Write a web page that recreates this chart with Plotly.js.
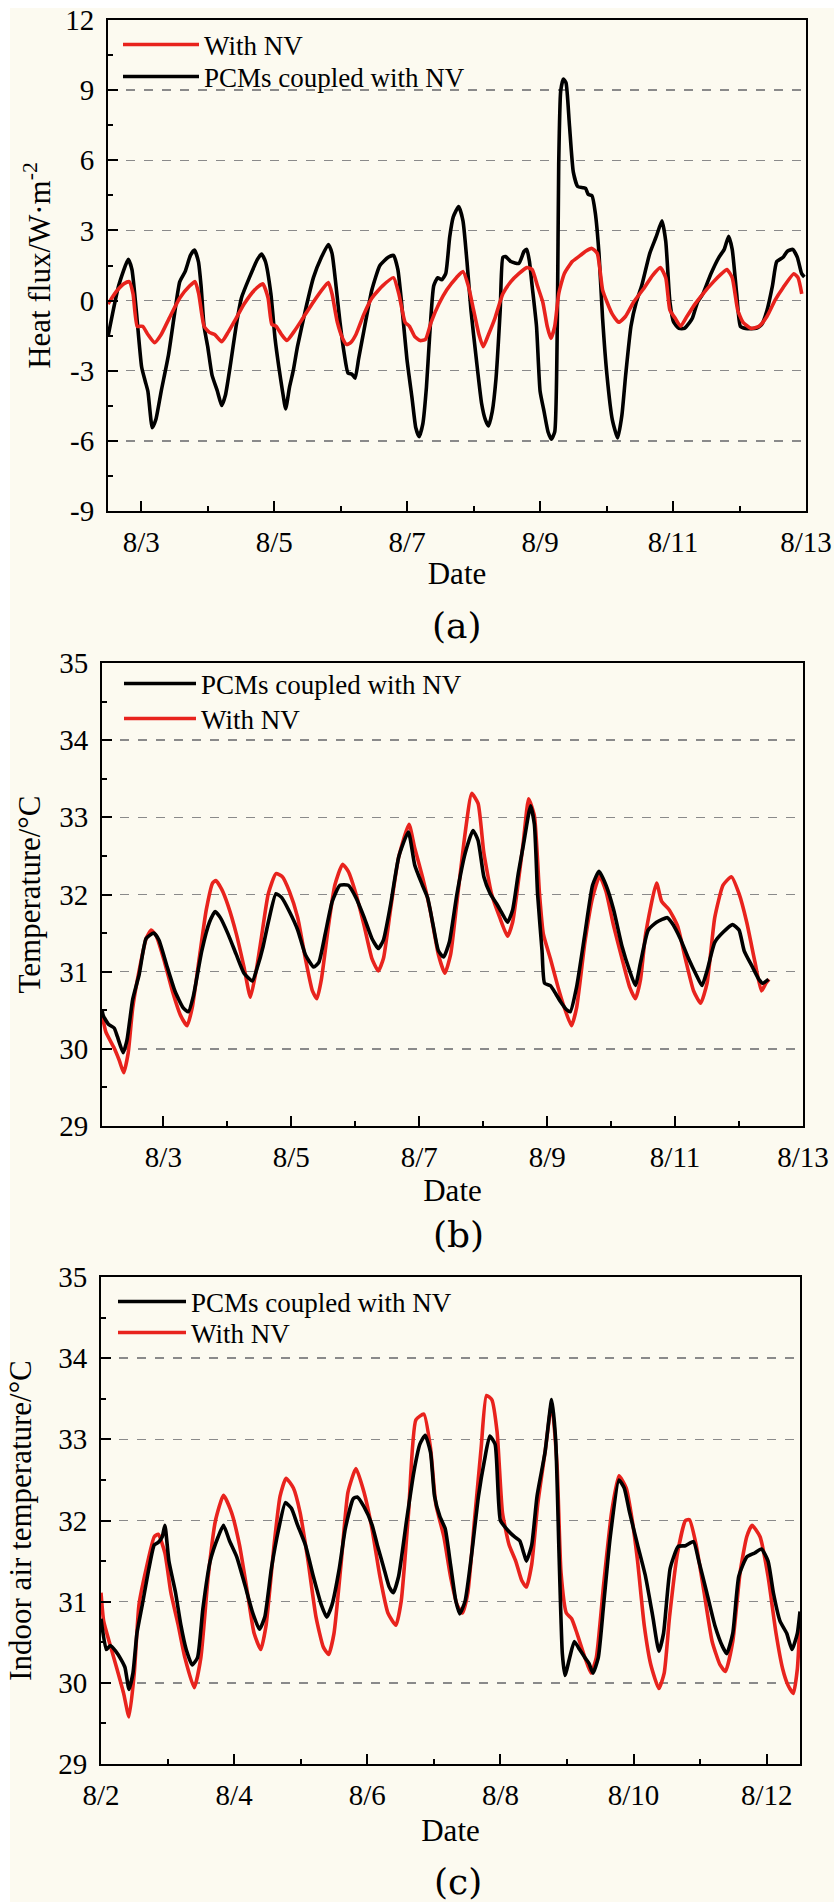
<!DOCTYPE html>
<html>
<head>
<meta charset="utf-8">
<script src="https://cdn.plot.ly/plotly-3.0.1.min.js"></script>
<style>html,body{margin:0;padding:0;background:#fff;}#chart{width:834px;height:1902px;}</style>
</head>
<body>
<div id="chart"></div>
<script>
// ---------- DATA (x = day of August, fractional) ----------
// Panel (a): heat flux, W·m-2
const dayA_pcm = [2.5,2.66,2.805,2.86,2.925,3.006,3.06,3.10,3.166,3.22,3.30,3.41,3.50,3.58,3.66,3.74,3.80,3.86,3.90,3.945,4.0,4.065,4.146,4.21,4.266,4.346,4.427,4.507,4.627,4.748,4.81,4.868,4.95,5.013,5.07,5.125,5.173,5.23,5.286,5.35,5.47,5.59,5.71,5.815,5.87,5.93,5.99,6.056,6.11,6.17,6.217,6.27,6.35,6.47,6.59,6.715,6.795,6.86,6.915,6.996,7.076,7.13,7.18,7.236,7.29,7.34,7.40,7.46,7.52,7.58,7.64,7.694,7.775,7.84,7.90,7.96,8.04,8.12,8.176,8.224,8.28,8.336,8.40,8.44,8.48,8.56,8.68,8.76,8.80,8.84,8.88,8.946,9.0,9.06,9.12,9.17,9.22,9.26,9.28,9.31,9.35,9.39,9.44,9.50,9.565,9.645,9.685,9.725,9.78,9.83,9.886,9.94,10.006,10.086,10.167,10.23,10.287,10.367,10.447,10.528,10.65,10.745,10.833,10.89,10.953,11.01,11.09,11.17,11.25,11.29,11.37,11.45,11.57,11.69,11.77,11.836,11.89,11.957,12.013,12.09,12.25,12.334,12.414,12.495,12.56,12.655,12.72,12.80,12.87,12.935,12.976];
const fluxA_pcm = [-1.54,0.63,1.76,1.33,-0.41,-2.84,-3.45,-3.88,-5.44,-5.09,-3.88,-2.32,-0.58,0.81,1.24,1.93,2.16,1.67,0.63,-1.10,-1.97,-3.19,-3.88,-4.49,-4.05,-2.66,-1.10,0.11,0.98,1.76,1.99,1.67,0.29,-1.62,-2.84,-3.88,-4.63,-3.71,-3.01,-1.97,-0.41,0.98,1.85,2.40,2.02,0.63,-0.93,-2.32,-3.10,-3.15,-3.32,-2.49,-1.28,0.46,1.50,1.85,1.93,1.33,-0.06,-2.49,-4.23,-5.44,-5.82,-5.27,-3.71,-1.45,0.63,0.98,0.89,1.15,2.72,3.58,4.02,3.41,1.67,-0.41,-2.49,-4.40,-5.09,-5.36,-4.75,-3.36,-0.41,1.85,1.88,1.67,1.59,2.11,2.19,1.67,0.63,-1.10,-3.88,-4.75,-5.62,-5.93,-5.62,-0.76,5.84,8.96,9.48,9.31,7.57,5.49,4.88,4.83,4.80,4.54,4.49,3.76,2.02,-0.76,-3.19,-5.09,-5.88,-4.92,-3.19,-1.10,-0.06,0.63,2.02,2.72,3.41,2.54,-0.06,-0.93,-1.19,-1.19,-0.93,-0.76,-0.06,0.29,1.15,1.85,2.19,2.75,2.19,0.29,-1.10,-1.19,-1.19,-1.02,-0.41,0.63,1.67,1.85,2.11,2.19,1.85,1.15,1.01];
const dayA_nv = [2.5,2.62,2.74,2.82,2.877,2.94,3.02,3.10,3.20,3.30,3.42,3.58,3.73,3.81,3.865,3.945,4.025,4.105,4.21,4.306,4.427,4.547,4.708,4.828,4.908,4.965,5.03,5.11,5.19,5.31,5.43,5.59,5.727,5.815,5.87,5.95,6.03,6.09,6.15,6.23,6.35,6.47,6.63,6.795,6.875,6.97,7.035,7.115,7.196,7.276,7.36,7.477,7.597,7.74,7.84,7.92,8.0,8.08,8.144,8.224,8.32,8.44,8.56,8.68,8.80,8.88,8.96,9.04,9.107,9.163,9.22,9.28,9.364,9.484,9.605,9.685,9.78,9.86,9.94,10.006,10.086,10.183,10.287,10.408,10.568,10.69,10.81,10.89,10.953,11.033,11.114,11.21,11.33,11.45,11.61,11.73,11.81,11.89,11.973,12.053,12.174,12.294,12.414,12.535,12.655,12.816,12.88,12.936];
const fluxA_nv = [-0.15,0.37,0.72,0.81,0.29,-1.10,-1.10,-1.45,-1.80,-1.45,-0.76,0.11,0.63,0.81,0.29,-1.10,-1.36,-1.45,-1.76,-1.36,-0.76,-0.15,0.46,0.72,0.11,-1.02,-1.10,-1.45,-1.71,-1.28,-0.76,-0.06,0.49,0.77,0.29,-0.93,-1.62,-1.88,-1.80,-1.45,-0.58,0.11,0.63,0.98,0.29,-0.93,-1.10,-1.54,-1.71,-1.66,-0.93,-0.15,0.46,0.98,1.24,0.63,-0.41,-1.45,-1.97,-1.45,-0.76,0.29,0.81,1.15,1.41,1.33,0.63,-0.06,-1.10,-1.62,-1.10,0.29,1.15,1.67,1.93,2.11,2.23,2.02,0.46,-0.06,-0.58,-0.93,-0.67,-0.06,0.55,1.07,1.41,0.98,-0.41,-0.76,-1.10,-0.67,-0.15,0.29,0.81,1.15,1.33,0.98,-0.41,-0.93,-1.19,-1.10,-0.67,0.02,0.55,1.15,0.98,0.29];

// Panel (b): temperature, °C
const dayB_pcm = [2.04,2.06,2.14,2.23,2.28,2.37,2.43,2.52,2.62,2.73,2.85,2.93,3.06,3.18,3.31,3.39,3.47,3.60,3.72,3.81,3.89,4.01,4.14,4.26,4.39,4.47,4.56,4.64,4.76,4.85,4.97,5.10,5.22,5.35,5.43,5.53,5.64,5.76,5.89,6.01,6.14,6.26,6.36,6.44,6.55,6.68,6.83,6.93,7.05,7.13,7.22,7.30,7.38,7.47,7.59,7.72,7.84,7.92,8.01,8.11,8.21,8.30,8.38,8.46,8.55,8.63,8.74,8.80,8.85,8.92,8.96,9.05,9.13,9.21,9.30,9.36,9.46,9.59,9.71,9.81,9.92,10.04,10.17,10.29,10.38,10.46,10.58,10.71,10.88,10.96,11.08,11.21,11.33,11.42,11.50,11.62,11.75,11.90,12.00,12.08,12.21,12.31,12.37,12.46];
const tempB_pcm = [30.51,30.43,30.32,30.27,30.16,29.95,30.11,30.64,30.96,31.43,31.50,31.41,31.06,30.75,30.53,30.48,30.69,31.27,31.64,31.78,31.70,31.49,31.22,30.98,30.88,31.06,31.33,31.64,32.01,31.96,31.78,31.54,31.22,31.06,31.12,31.49,31.91,32.12,32.12,31.96,31.70,31.43,31.30,31.41,31.86,32.49,32.81,32.38,32.12,31.96,31.59,31.27,31.19,31.38,32.01,32.54,32.83,32.70,32.23,32.01,31.88,31.75,31.64,31.80,32.28,32.65,33.15,32.91,32.01,31.27,30.85,30.82,30.72,30.61,30.51,30.48,30.80,31.49,32.12,32.30,32.12,31.80,31.33,31.01,30.82,31.12,31.54,31.64,31.70,31.62,31.43,31.17,30.96,30.82,31.01,31.38,31.51,31.61,31.54,31.27,31.06,30.90,30.85,30.90];
const dayB_nv = [2.04,2.10,2.23,2.31,2.38,2.45,2.52,2.62,2.73,2.81,2.89,3.02,3.14,3.27,3.37,3.45,3.56,3.67,3.77,3.82,3.91,4.01,4.14,4.26,4.36,4.45,4.53,4.64,4.76,4.86,4.97,5.10,5.22,5.33,5.40,5.47,5.58,5.68,5.80,5.89,6.01,6.14,6.26,6.36,6.44,6.55,6.68,6.84,6.93,7.05,7.17,7.30,7.40,7.49,7.59,7.72,7.82,7.92,8.01,8.13,8.26,8.38,8.46,8.55,8.63,8.71,8.80,8.88,8.94,9.05,9.17,9.27,9.38,9.46,9.59,9.71,9.82,9.92,10.04,10.17,10.29,10.38,10.46,10.54,10.71,10.79,10.91,11.04,11.16,11.29,11.40,11.50,11.62,11.75,11.88,12.00,12.12,12.25,12.35,12.42,12.47];
const tempB_nv = [30.45,30.22,30.01,29.85,29.69,29.95,30.53,31.01,31.43,31.54,31.46,31.12,30.75,30.43,30.30,30.53,31.17,31.80,32.15,32.18,32.07,31.86,31.49,31.06,30.67,31.01,31.43,32.01,32.27,32.23,32.04,31.70,31.17,30.75,30.65,30.90,31.59,32.12,32.39,32.30,32.01,31.59,31.17,31.01,31.17,31.80,32.49,32.91,32.60,32.23,31.80,31.22,30.98,31.22,31.91,32.81,33.31,33.18,32.54,32.01,31.70,31.46,31.64,32.17,32.70,33.24,33.02,32.01,31.49,31.17,30.80,30.53,30.30,30.53,31.38,31.96,32.24,32.04,31.59,31.17,30.80,30.65,30.90,31.49,32.15,31.91,31.80,31.59,31.17,30.75,30.59,30.85,31.70,32.12,32.23,32.01,31.64,31.12,30.75,30.85,30.90];

// Panel (c): indoor air temperature, °C
const dayC_pcm = [2.0,2.08,2.14,2.22,2.30,2.36,2.42,2.48,2.54,2.62,2.72,2.80,2.86,2.92,2.96,3.02,3.12,3.20,3.28,3.37,3.45,3.53,3.64,3.76,3.84,3.93,4.04,4.16,4.28,4.38,4.46,4.56,4.67,4.77,4.86,4.95,5.07,5.19,5.31,5.39,5.47,5.58,5.67,5.79,5.85,5.95,6.07,6.15,6.25,6.33,6.39,6.47,6.59,6.70,6.79,6.87,6.95,7.01,7.09,7.17,7.25,7.33,7.39,7.47,7.57,7.67,7.76,7.84,7.92,8.00,8.11,8.21,8.29,8.35,8.39,8.47,8.55,8.67,8.77,8.83,8.88,8.93,8.97,9.04,9.11,9.19,9.27,9.33,9.39,9.47,9.55,9.65,9.78,9.86,9.94,10.06,10.18,10.29,10.38,10.45,10.55,10.67,10.78,10.90,10.98,11.10,11.22,11.34,11.40,11.49,11.58,11.70,11.82,11.92,12.02,12.10,12.20,12.30,12.38,12.46,12.50];
const tempC_pcm = [30.79,30.41,30.46,30.39,30.29,30.19,29.92,30.12,30.61,30.96,31.41,31.70,31.73,31.80,31.94,31.50,31.11,30.71,30.41,30.22,30.31,30.91,31.50,31.80,31.94,31.75,31.55,31.21,30.86,30.66,30.81,31.41,31.90,32.22,32.15,31.95,31.70,31.31,30.96,30.81,30.96,31.41,31.90,32.27,32.29,32.17,31.95,31.70,31.41,31.18,31.11,31.31,32.00,32.60,32.94,33.05,32.84,32.30,32.05,31.90,31.46,31.01,30.85,31.01,31.60,32.30,32.74,33.04,32.94,32.00,31.88,31.80,31.75,31.60,31.50,31.70,32.30,32.84,33.49,32.99,31.60,30.36,30.09,30.31,30.51,30.41,30.31,30.24,30.12,30.31,30.96,31.80,32.50,32.40,32.10,31.70,31.31,30.81,30.39,30.61,31.41,31.68,31.69,31.74,31.50,31.11,30.71,30.44,30.36,30.61,31.31,31.55,31.60,31.65,31.50,31.11,30.76,30.61,30.41,30.61,30.88];
const dayC_nv = [2.0,2.04,2.14,2.24,2.34,2.42,2.50,2.57,2.68,2.80,2.86,2.96,3.05,3.16,3.26,3.40,3.50,3.61,3.72,3.84,3.96,4.08,4.20,4.30,4.40,4.48,4.60,4.69,4.78,4.89,4.99,5.11,5.23,5.34,5.42,5.50,5.61,5.71,5.83,5.95,6.07,6.19,6.31,6.43,6.51,6.62,6.73,6.85,6.95,7.03,7.15,7.25,7.35,7.43,7.51,7.61,7.71,7.79,7.87,7.95,8.03,8.13,8.23,8.32,8.39,8.47,8.56,8.67,8.77,8.85,8.91,8.99,9.07,9.15,9.27,9.36,9.44,9.55,9.67,9.78,9.89,9.98,10.06,10.16,10.26,10.38,10.46,10.54,10.66,10.78,10.84,10.94,11.06,11.18,11.30,11.38,11.49,11.60,11.70,11.78,11.90,12.02,12.14,12.24,12.32,12.40,12.46,12.50];
const tempC_nv = [31.11,30.76,30.46,30.17,29.87,29.58,30.12,30.96,31.41,31.80,31.83,31.60,31.11,30.71,30.31,29.94,30.31,31.31,32.00,32.31,32.10,31.70,31.11,30.61,30.41,30.71,31.70,32.30,32.52,32.40,32.10,31.50,30.81,30.44,30.35,30.61,31.50,32.35,32.64,32.35,31.90,31.31,30.86,30.71,31.01,32.10,33.24,33.31,32.89,32.20,31.80,31.31,30.96,30.86,31.11,32.00,32.89,33.54,33.49,33.09,32.10,31.70,31.50,31.26,31.18,31.46,32.20,32.84,33.44,32.69,31.36,30.86,30.79,30.61,30.31,30.12,30.31,31.21,32.10,32.55,32.40,32.00,31.50,30.71,30.22,29.93,30.12,30.81,31.60,32.00,32.01,31.70,31.11,30.51,30.22,30.14,30.51,31.36,31.80,31.94,31.80,31.31,30.61,30.17,29.97,29.87,30.17,30.76];

// Tick labels
const tickDaysA = [3,5,7,9,11,13];
const tickTextA = ['8/3','8/5','8/7','8/9','8/11','8/13'];
const tickDaysB = [3,5,7,9,11,13];
const tickTextB = ['8/3','8/5','8/7','8/9','8/11','8/13'];
const tickDaysC = [2,4,6,8,10,12];
const tickTextC = ['8/2','8/4','8/6','8/8','8/10','8/12'];
const fluxTickVals = [-9,-6,-3,0,3,6,9,12];
const fluxTickText = ['-9','-6','-3','0','3','6','9','12'];
const tempTickVals = [29,30,31,32,33,34,35];
const tempTickText = ['29','30','31','32','33','34','35'];

const nameNV = 'With NV';
const namePCM = 'PCMs coupled with NV';
const panelLabels = ['(a)','(b)','(c)'];
const yTitles = ['Heat flux/W·m<sup>-2</sup>','Temperature/°C','Indoor air temperature/°C'];
const xTitle = 'Date';

// ---------- STYLE ----------
const W = 834, H = 1902;
const RED = '#e8231d', BLACK = '#000000';
const CREAM = '#fcfaf0';
const SERIF = 'Liberation Serif, Times New Roman, serif';
const xd = (l, r) => [l / W, r / W];
const yd = (t, b) => [1 - b / H, 1 - t / H];

function xAxis(dom, anchor, range, tv, tt, standoff) {
  return {
    domain: dom, anchor: anchor, range: range,
    tickmode: 'array', tickvals: tv, ticktext: tt,
    ticks: 'inside', ticklen: 10, tickwidth: 2, tickcolor: BLACK,
    minor: {tickmode: 'linear', tick0: 0, dtick: 1, ticks: 'inside', ticklen: 5, tickwidth: 2, tickcolor: BLACK, showgrid: false},
    showline: true, linecolor: BLACK, linewidth: 2, mirror: true,
    showgrid: false, zeroline: false,
    ticklabelstandoff: 4,
    tickfont: {family: SERIF, size: 29, color: BLACK},
    title: {text: xTitle, font: {family: SERIF, size: 31, color: BLACK}, standoff: standoff},
    automargin: false
  };
}
function yAxis(dom, anchor, range, tv, tt, minorDtick, title, standoff) {
  return {
    domain: dom, anchor: anchor, range: range,
    tickmode: 'array', tickvals: tv, ticktext: tt,
    ticks: 'inside', ticklen: 10, tickwidth: 2, tickcolor: BLACK,
    minor: {tickmode: 'linear', tick0: 0, dtick: minorDtick, ticks: 'inside', ticklen: 5, tickwidth: 2, tickcolor: BLACK, showgrid: false},
    showline: true, linecolor: BLACK, linewidth: 2, mirror: true,
    showgrid: true, gridcolor: '#8a8a8a', gridwidth: 1.5, griddash: 'dash',
    zeroline: false,
    ticklabelstandoff: 6,
    tickfont: {family: SERIF, size: 29, color: BLACK},
    title: {text: title, font: {family: SERIF, size: 31, color: BLACK}, standoff: standoff},
    automargin: false
  };
}
function line(x, y, name, color, xa, ya, leg) {
  return {
    x: x, y: y, name: name, type: 'scatter', mode: 'lines',
    line: {color: color, width: 3.6, shape: 'spline', smoothing: 0.5},
    xaxis: xa, yaxis: ya, legend: leg, hoverinfo: 'skip'
  };
}

const traces = [
  line(dayA_pcm, fluxA_pcm, namePCM, BLACK, 'x', 'y', 'legend2'),
  line(dayA_nv, fluxA_nv, nameNV, RED, 'x', 'y', 'legend'),
  line(dayB_nv, tempB_nv, nameNV, RED, 'x2', 'y2', 'legend4'),
  line(dayB_pcm, tempB_pcm, namePCM, BLACK, 'x2', 'y2', 'legend3'),
  line(dayC_nv, tempC_nv, nameNV, RED, 'x3', 'y3', 'legend6'),
  line(dayC_pcm, tempC_pcm, namePCM, BLACK, 'x3', 'y3', 'legend5')
];

// one legend per entry: left of the key line (px), its vertical centre (px), key width
function legendAt(lineStart, lineY, itemW) {
  return {
    x: (lineStart - 5) / W, y: 1 - lineY / H, xanchor: 'left', yanchor: 'middle',
    bgcolor: 'rgba(0,0,0,0)', borderwidth: 0,
    font: {family: SERIF, size: 27, color: BLACK},
    itemwidth: itemW
  };
}

const layout = {
  width: W, height: H,
  margin: {l: 0, r: 0, t: 0, b: 0},
  paper_bgcolor: '#ffffff', plot_bgcolor: CREAM,
  showlegend: true,
  xaxis: xAxis(xd(108, 806), 'y', [2.5, 13], tickDaysA, tickTextA, 6),
  yaxis: yAxis(yd(20, 511), 'x', [-9, 12], fluxTickVals, fluxTickText, 1.5, yTitles[0], 5),
  xaxis2: xAxis(xd(102, 803), 'y2', [2.04, 13], tickDaysB, tickTextB, 6),
  yaxis2: yAxis(yd(663, 1126), 'x2', [29, 35], tempTickVals, tempTickText, 0.5, yTitles[1], 9),
  xaxis3: xAxis(xd(101, 800), 'y3', [2, 12.5], tickDaysC, tickTextC, 10),
  yaxis3: yAxis(yd(1277, 1764), 'x3', [29, 35], tempTickVals, tempTickText, 0.5, yTitles[2], 17),
  legend: legendAt(123, 45, 76),
  legend2: legendAt(123, 77, 76),
  legend3: legendAt(124, 684, 72),
  legend4: legendAt(124, 719, 72),
  legend5: legendAt(118, 1302, 68),
  legend6: legendAt(118, 1333, 68),
  shapes: [{type: 'rect', xref: 'paper', yref: 'paper', x0: 10 / W, x1: 1, y0: 0, y1: 1 - 8 / H,
            fillcolor: CREAM, line: {width: 0}, layer: 'below'}],
  annotations: [
    {text: panelLabels[0], x: 457 / W, y: 1 - 626 / H},
    {text: panelLabels[1], x: 458 / W, y: 1 - 1234 / H},
    {text: panelLabels[2], x: 458 / W, y: 1 - 1881 / H}
  ].map(a => Object.assign(a, {xref: 'paper', yref: 'paper', xanchor: 'center', yanchor: 'middle',
        showarrow: false, font: {family: 'DejaVu Serif, serif', size: 36, color: BLACK}}))
};

Plotly.newPlot('chart', traces, layout, {staticPlot: true, displayModeBar: false});
</script>
</body>
</html>
